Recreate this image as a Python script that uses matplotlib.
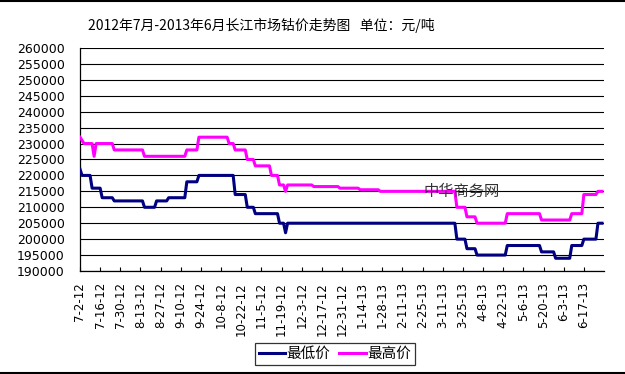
import numpy as np
import matplotlib
matplotlib.use("Agg")
import matplotlib.pyplot as plt
from matplotlib.lines import Line2D

plt.rcParams['font.family'] = ['Noto Sans CJK SC', 'DejaVu Sans']

# price levels (yuan/ton) and how many trading days each level lasted
low_vals = [222000, 220000, 216000, 213000, 212000, 210000, 212000, 213000, 218000,
            220000, 214000, 210000, 208000, 205000, 202000, 205000, 200000, 197000,
            195000, 198000, 196000, 194000, 198000, 200000, 205000]
low_days = [1, 5, 5, 6, 15, 6, 6, 9, 6,
            18, 6, 4, 12, 3, 1, 84, 5, 5,
            15, 17, 7, 8, 6, 7, 3]

high_vals = [232000, 231000, 230000, 226000, 230000, 228000, 226000, 228000, 232000,
             230000, 228000, 225000, 223000, 220000, 217000, 215000, 217000, 216500,
             216000, 215500, 215000, 210000, 207000, 205000, 208000, 206000, 208000,
             214000, 215000]
high_days = [1, 1, 5, 1, 9, 15, 21, 6, 15,
             3, 6, 4, 8, 4, 3, 1, 13, 13,
             10, 10, 38, 5, 5, 15, 17, 15, 6,
             7, 3]

tick_labels = ["7-2-12", "7-16-12", "7-30-12", "8-13-12", "8-27-12", "9-10-12",
               "9-24-12", "10-8-12", "10-22-12", "11-5-12", "11-19-12", "12-3-12",
               "12-17-12", "12-31-12", "1-14-13", "1-28-13", "2-11-13", "2-25-13",
               "3-11-13", "3-25-13", "4-8-13", "4-22-13", "5-6-13", "5-20-13",
               "6-3-13", "6-17-13"]

low = np.repeat(low_vals, low_days)
high = np.repeat(high_vals, high_days)
x = np.arange(len(low))

fig = plt.figure(figsize=(6.25, 3.74), dpi=100)
ax = fig.add_axes([0.128, 0.2754, 0.8384, 0.5963])

ax.plot(x, low, color="#000080", lw=2.2, label="最低价", zorder=3)
ax.plot(x, high, color="#ff00ff", lw=2.2, label="最高价", zorder=3)

ax.set_ylim(190000, 260000)
ax.set_yticks(range(190000, 260001, 5000))
ax.set_xlim(0, 260)
ax.set_xticks(range(0, len(x), 10))
ax.set_xticklabels(tick_labels, rotation=90, fontsize=8.5, family="DejaVu Sans")
ax.tick_params(axis="x", direction="in", length=3, width=0.8, pad=8)
ax.tick_params(axis="y", length=0, pad=11, labelsize=9)
for lab in ax.get_yticklabels():
    lab.set_family("DejaVu Sans")

ax.grid(axis="y", color="black", lw=0.8)
ax.set_axisbelow(True)
for s in ["top", "right"]:
    ax.spines[s].set_visible(False)
for s in ["left", "bottom"]:
    ax.spines[s].set_linewidth(0.9)

# watermark
ax.text(0.655, 0.355, "中华商务网", transform=ax.transAxes, fontsize=11,
        color="#333333", ha="left", va="center", zorder=4)

fig.text(261.5 / 625, 1 - 25 / 374, "2012年7月-2013年6月长江市场钴价走势图   单位：元/吨",
         ha="center", va="center", fontsize=10)

leg = fig.legend(loc="center", bbox_to_anchor=(0.536, 0.0535), ncol=2, fontsize=10.5,
                 frameon=True, fancybox=False, edgecolor="black", borderpad=0.25,
                 handlelength=1.8, handletextpad=0.1, columnspacing=0.6)
leg.get_frame().set_linewidth(0.9)

# figure border lines (top and bottom)
fig.add_artist(Line2D([0, 1], [0.998, 0.998], transform=fig.transFigure, color="black", lw=1.5))
fig.add_artist(Line2D([0, 1], [0.004, 0.004], transform=fig.transFigure, color="black", lw=1.5))

fig.savefig("out.png", dpi=100)
